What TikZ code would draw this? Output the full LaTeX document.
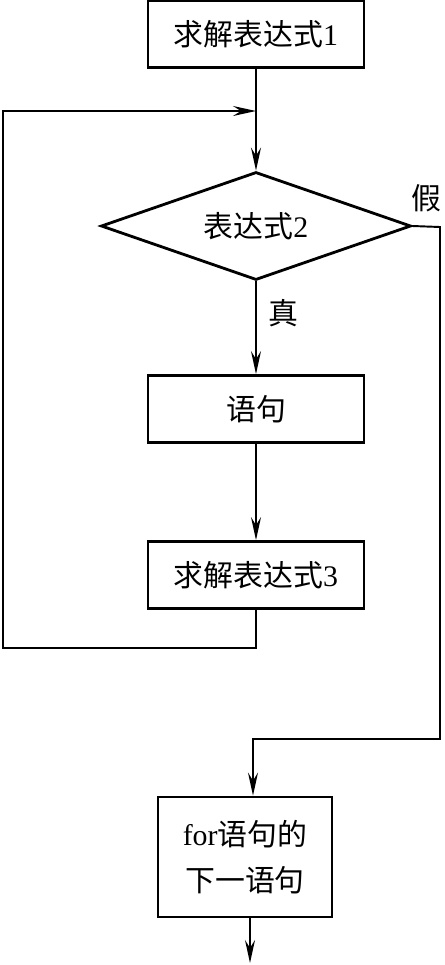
\documentclass[tikz,border=0pt]{standalone}
\usepackage{fontspec}
\setmainfont{Liberation Serif}
\newfontfamily\cjk{Noto Sans CJK SC}
\usetikzlibrary{positioning,arrows.meta,shapes.geometric}
\tikzset{
  procbox/.style={rectangle, draw=black, line width=1.6pt, fill=white,
                  minimum width=4.32cm, minimum height=1.34cm, inner sep=2pt,
                  font=\fontsize{17}{26}\selectfont, align=center},
  decision/.style={diamond, draw=black, line width=1.6pt, fill=white, aspect=2.87,
                   minimum width=6.2cm, minimum height=2.16cm, inner sep=0pt,
                   font=\fontsize{17}{20}\selectfont},
  lbl/.style={font=\fontsize{17}{20}\selectfont, inner sep=0pt},
  arr/.style={-{Stealth[length=4.6mm, width=2mm, inset=1.6mm]}, line width=1.1pt, draw=black},
  wire/.style={line width=1.1pt, draw=black},
}

\begin{document}
\begin{tikzpicture}[x=0.2mm, y=-0.2mm]
  \useasboundingbox (0,0) rectangle (445,965);
  \node[procbox] (init) at (256,34) {{\cjk 求解表达式}1};
  \node[decision] (cond) at (256,226) {{\cjk 表达式}2};
  \node[procbox] (body) at (256,409) {\cjk 语句};
  \node[procbox] (incr) at (256,575) {{\cjk 求解表达式}3};
  \node[procbox, minimum width=3.48cm, minimum height=2.4cm] (next) at (245,857)
    {for{\cjk 语句的}\\{\cjk 下一语句}};
  \coordinate (join) at (256,111);
  \coordinate (back) at (256,648);
  \coordinate (left) at (3,648);
  \coordinate (exitr) at (440,227);
  \coordinate (exitb) at (440,739);
  \coordinate (fdown) at (253,739);
  \coordinate (out) at (250,963);
  \draw[wire] (init) -- (join);
  \draw[arr] (join) -- (cond.north);
  \draw[arr] (cond.south) -- (body);
  \node[lbl] (yes) at (283,313) {\cjk 真};
  \draw[arr] (body) -- (incr);
  \draw[arr] (incr.south) -- (back) -- (left) |- (join);
  \draw[arr] (cond.east) -- (exitr) -- (exitb) -- (fdown) -- (fdown |- next.north);
  \node[lbl] (no) at (426,198) {\cjk 假};
  \draw[arr] (next.south -| out) -- (out);
\end{tikzpicture}
\end{document}
